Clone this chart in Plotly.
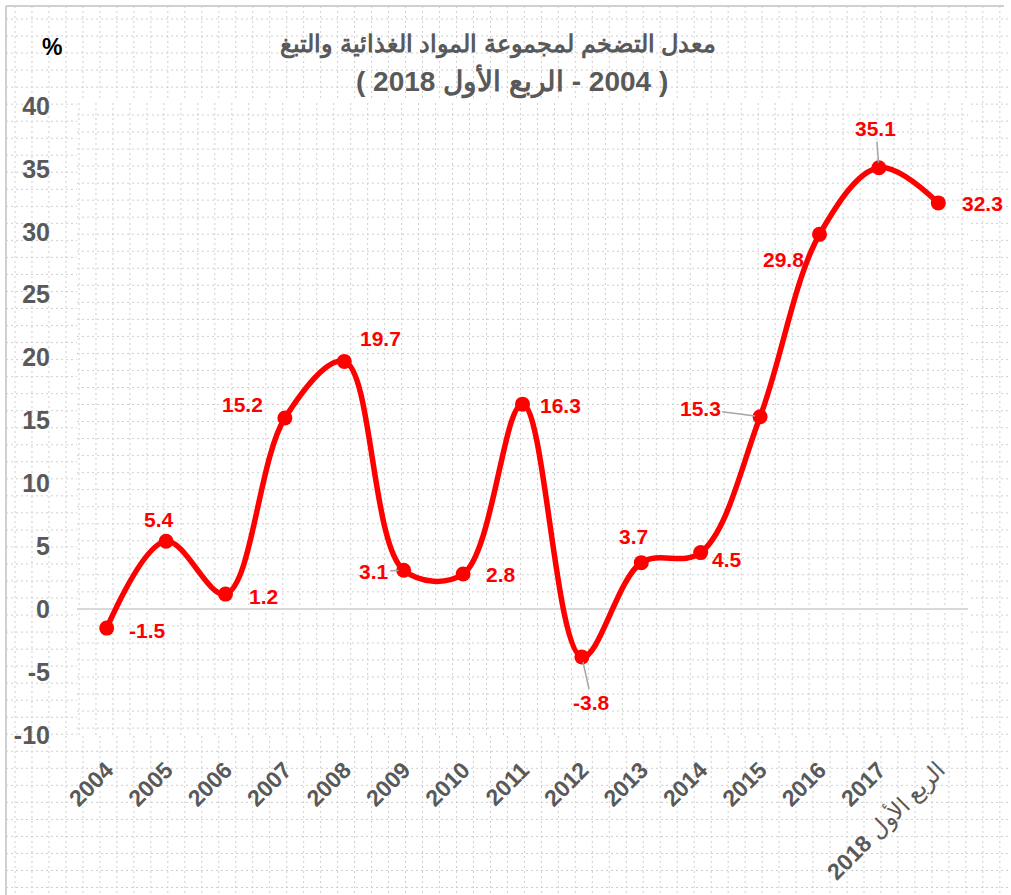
import plotly.graph_objects as go

# ---- data ----
categories = ["2004", "2005", "2006", "2007", "2008", "2009", "2010", "2011",
              "2012", "2013", "2014", "2015", "2016", "2017", "الربع الأول 2018"]
inflation = [-1.5, 5.4, 1.2, 15.2, 19.7, 3.1, 2.8, 16.3, -3.8, 3.7, 4.5, 15.3, 29.8, 35.1, 32.3]
y_ticks = [-10, -5, 0, 5, 10, 15, 20, 25, 30, 35, 40]
title_line1 = "معدل التضخم لمجموعة المواد الغذائية والتبغ"
title_line2 = "\u200F( 2004 - الربع الأول 2018 )"

# label placement (screen pixel offsets from each point; dy positive = down)
label_offsets = [(41, 2), (-7, -22), (38, 2), (-42, -14), (36, -23), (-30, 1), (38, 1),
                 (38, 1), (10, 45), (-8, -26), (26, 7), (-60, -8), (-36, 25), (-3, -39), (44, 1)]
leader = [False, False, False, False, False, True, False, False, True, False, False,
          True, False, True, False]

W, H = 1011, 895
ML, MR, MT, MB = 77, 43, 100, 160
PW, PH = W - ML - MR, H - MT - MB


def px(x):
    return (x - ML) / PW


def py(y):
    return (H - MB - y) / PH


RED = "#FF0000"
GRAY = "#595959"
FONT = "Liberation Sans, Arial, sans-serif"

idx = list(range(len(categories)))

fig = go.Figure()
fig.add_trace(go.Scatter(
    x=idx, y=inflation, mode="lines+markers",
    line=dict(color=RED, width=5.5, shape="spline", smoothing=1.0),
    marker=dict(color=RED, size=15),
    cliponaxis=False, hoverinfo="y", showlegend=False,
))

# ---- background dotted pattern ----
shapes = []
dot = dict(color="#cfcfcf", width=1, dash="2px,3px")
x = 15.0
while x < W:
    if x > 6:
        shapes.append(dict(type="line", xref="paper", yref="paper", x0=px(x), x1=px(x),
                           y0=py(6), y1=py(H), line=dot, layer="below"))
    x += 16.98
y = 19.0
while y < H:
    shapes.append(dict(type="line", xref="paper", yref="paper", x0=px(6), x1=px(W),
                       y0=py(y), y1=py(y), line=dot, layer="below"))
    y += 17.03
# plot area
shapes.append(dict(type="rect", xref="paper", yref="paper", x0=0, x1=1, y0=0, y1=1,
                   fillcolor="white", line=dict(width=0), layer="below"))
x = 79.0
while x < ML + PW:
    shapes.append(dict(type="line", xref="paper", yref="paper", x0=px(x), x1=px(x),
                       y0=0, y1=1, line=dot, layer="below"))
    x += 16.98
y = 115.0 - 17.03
while y < MT + PH:
    if y > MT:
        shapes.append(dict(type="line", xref="paper", yref="paper", x0=0, x1=1,
                           y0=py(y), y1=py(y), line=dot, layer="below"))
    y += 17.03
# outer frame
shapes.append(dict(type="line", xref="paper", yref="paper", x0=px(6), x1=px(1004),
                   y0=py(6), y1=py(6), line=dict(color="#d0d0d0", width=2), layer="below"))
shapes.append(dict(type="line", xref="paper", yref="paper", x0=px(6), x1=px(6),
                   y0=py(6), y1=py(H + 5), line=dict(color="#d0d0d0", width=2), layer="below"))

# ---- data labels ----
annotations = []
lab_font = dict(family=FONT, size=21, color=RED)
for i, val, (dx, dy), ld in zip(idx, inflation, label_offsets, leader):
    text = "<b>%s</b>" % val
    if ld:
        annotations.append(dict(x=i, y=val, text=text, showarrow=True, ax=dx, ay=dy,
                                arrowhead=0, arrowwidth=1.5, arrowcolor="#a6a6a6",
                                standoff=5, font=lab_font))
    else:
        annotations.append(dict(x=i, y=val, text=text, showarrow=False,
                                xshift=dx, yshift=-dy, font=lab_font))

# title and unit
annotations.append(dict(xref="paper", yref="paper", x=px(498), y=py(45),
                        text="<b>%s</b>" % title_line1, showarrow=False,
                        xanchor="center", yanchor="middle",
                        font=dict(family=FONT, size=24, color=GRAY)))
annotations.append(dict(xref="paper", yref="paper", x=px(512), y=py(81),
                        text="<b>%s</b>" % title_line2, showarrow=False,
                        xanchor="center", yanchor="middle",
                        font=dict(family=FONT, size=28, color=GRAY)))
annotations.append(dict(xref="paper", yref="paper", x=px(52), y=py(47), text="<b>%</b>",
                        showarrow=False, xanchor="center", yanchor="middle",
                        font=dict(family=FONT, size=23, color="black")))

x_ticktext = ["<b>%s</b>" % c if c.isdigit() else c.replace("2018", "<b>2018</b>")
              for c in categories]

fig.update_layout(
    width=W, height=H,
    margin=dict(l=ML, r=MR, t=MT, b=MB, pad=0, autoexpand=False),
    paper_bgcolor="white", plot_bgcolor="rgba(0,0,0,0)",
    shapes=shapes, annotations=annotations,
    xaxis=dict(range=[-0.5, len(categories) - 0.5], tickvals=idx, ticktext=x_ticktext,
               showgrid=False, zeroline=False, showline=False, ticks="", tickangle=-45,
               tickfont=dict(family=FONT, size=23, color=GRAY),
               ticklabelstandoff=16, automargin=False),
    yaxis=dict(range=[-10, 40.48], tickvals=y_ticks,
               ticktext=["<b>%d</b>" % v for v in y_ticks], showgrid=False,
               zeroline=True, zerolinecolor="#d9d9d9", zerolinewidth=2,
               showline=False, ticks="", automargin=False,
               tickfont=dict(family=FONT, size=25, color=GRAY),
               ticklabelstandoff=26),
)

fig.write_html("out.html", config={"displayModeBar": False},
               post_script="document.body.style.margin='0px';")
